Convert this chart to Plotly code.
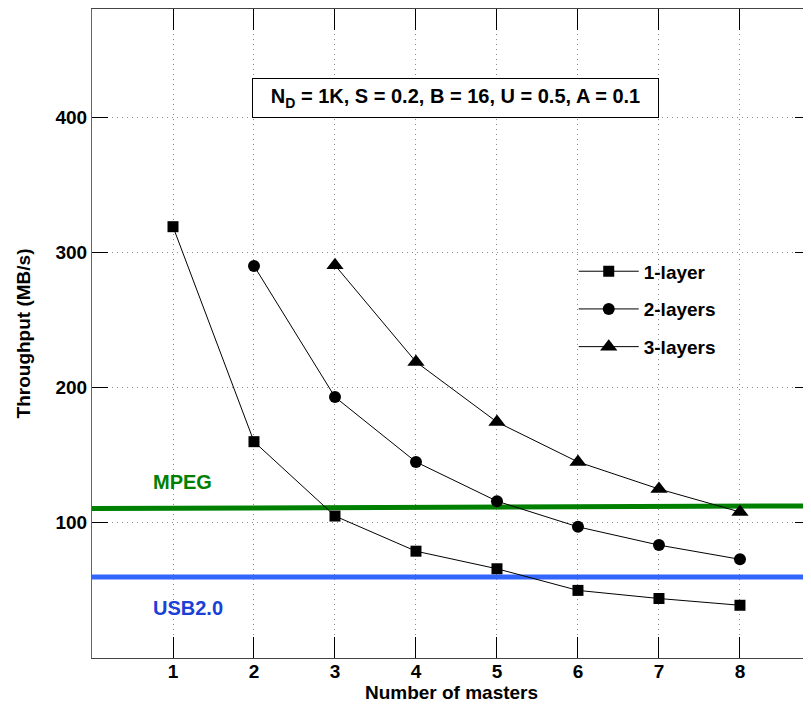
import plotly.graph_objects as go

# Data
x_1layer = [1, 2, 3, 4, 5, 6, 7, 8]
y_1layer = [319, 160, 105, 79, 66, 50, 44, 39]
x_2layers = [2, 3, 4, 5, 6, 7, 8]
y_2layers = [290, 193, 145, 116, 97, 83.5, 73]
x_3layers = [3, 4, 5, 6, 7, 8]
y_3layers = [290.5, 219, 174.5, 145, 125, 108]
mpeg_x = [0, 8.877]
mpeg_y = [110.5, 112.5]
usb_x = [0, 8.877]
usb_y = [60, 60]
x_ticks = [1, 2, 3, 4, 5, 6, 7, 8]
y_ticks = [100, 200, 300, 400]

FONT = "Liberation Sans, Arial, sans-serif"

fig = go.Figure()

fig.add_trace(go.Scatter(x=mpeg_x, y=mpeg_y, mode="lines",
                         line=dict(color="#008000", width=5), showlegend=False, hoverinfo="skip"))
fig.add_trace(go.Scatter(x=usb_x, y=usb_y, mode="lines",
                         line=dict(color="#3366FF", width=5), showlegend=False, hoverinfo="skip"))

fig.add_trace(go.Scatter(x=x_1layer, y=y_1layer, mode="lines+markers", name="1-layer",
                         legendgroup="a",
                         line=dict(color="black", width=1),
                         marker=dict(symbol="square", size=11, color="black")))
fig.add_trace(go.Scatter(x=x_2layers, y=y_2layers, mode="lines+markers", name="2-layers",
                         legendgroup="b",
                         line=dict(color="black", width=1),
                         marker=dict(symbol="circle", size=12, color="black")))
fig.add_trace(go.Scatter(x=x_3layers, y=y_3layers, mode="lines+markers", name="3-layers",
                         legendgroup="c",
                         line=dict(color="black", width=1),
                         marker=dict(symbol="triangle-up", size=15, color="black")))

fig.update_layout(
    width=803, height=698,
    margin=dict(l=84, r=0, t=1, b=48, autoexpand=False),
    plot_bgcolor="white", paper_bgcolor="white",
    font=dict(family=FONT, size=18, color="black", weight="bold"),
    showlegend=True,
    legend=dict(x=0.670, y=0.625, xanchor="left", yanchor="top",
                bgcolor="rgba(0,0,0,0)", borderwidth=0,
                font=dict(family=FONT, size=19, color="black", weight="bold"),
                tracegroupgap=10, itemwidth=60),
    xaxis=dict(range=[0, 8.877], tickvals=x_ticks, ticks="inside", ticklen=21,
               tickcolor="black", tickwidth=1, automargin=False,
               showline=True, linecolor="#444", linewidth=1, mirror="ticks",
               showgrid=True, gridcolor="#8a8a8a", griddash="1px,4px", gridwidth=1,
               zeroline=False, ticklabelstandoff=-4,
               tickfont=dict(family=FONT, size=19, weight="bold"),
               title=dict(text="Number of masters", standoff=2,
                          font=dict(family=FONT, size=19, weight="bold"))),
    yaxis=dict(range=[0, 480], tickvals=y_ticks, ticks="inside", ticklen=16,
               tickcolor="black", tickwidth=1, automargin=False,
               showline=True, linecolor="#666", linewidth=1, mirror="ticks",
               showgrid=True, gridcolor="#8a8a8a", griddash="1px,4px", gridwidth=1,
               zeroline=False,
               tickfont=dict(family=FONT, size=19, weight="bold"),
               title=dict(text="Throughput (MB/s)", standoff=19,
                          font=dict(family=FONT, size=19, weight="bold"))),
)

fig.add_annotation(x=0.506, y=0.863, xref="paper", yref="paper",
                   xanchor="center", yanchor="middle",
                   text="N<sub>D</sub> = 1K, S = 0.2, B = 16, U = 0.5, A = 0.1",
                   showarrow=False, bgcolor="white", bordercolor="black", borderwidth=1,
                   borderpad=5, width=395, height=28,
                   font=dict(family=FONT, size=20, color="black", weight="bold"))
fig.add_annotation(x=1.12, y=130, xref="x", yref="y", text="MPEG", showarrow=False,
                   font=dict(family=FONT, size=20, color="#008000", weight="bold"))
fig.add_annotation(x=1.19, y=37, xref="x", yref="y", text="USB2.0", showarrow=False,
                   font=dict(family=FONT, size=20, color="#1a40d8", weight="bold"))

fig.write_html("out.html")
